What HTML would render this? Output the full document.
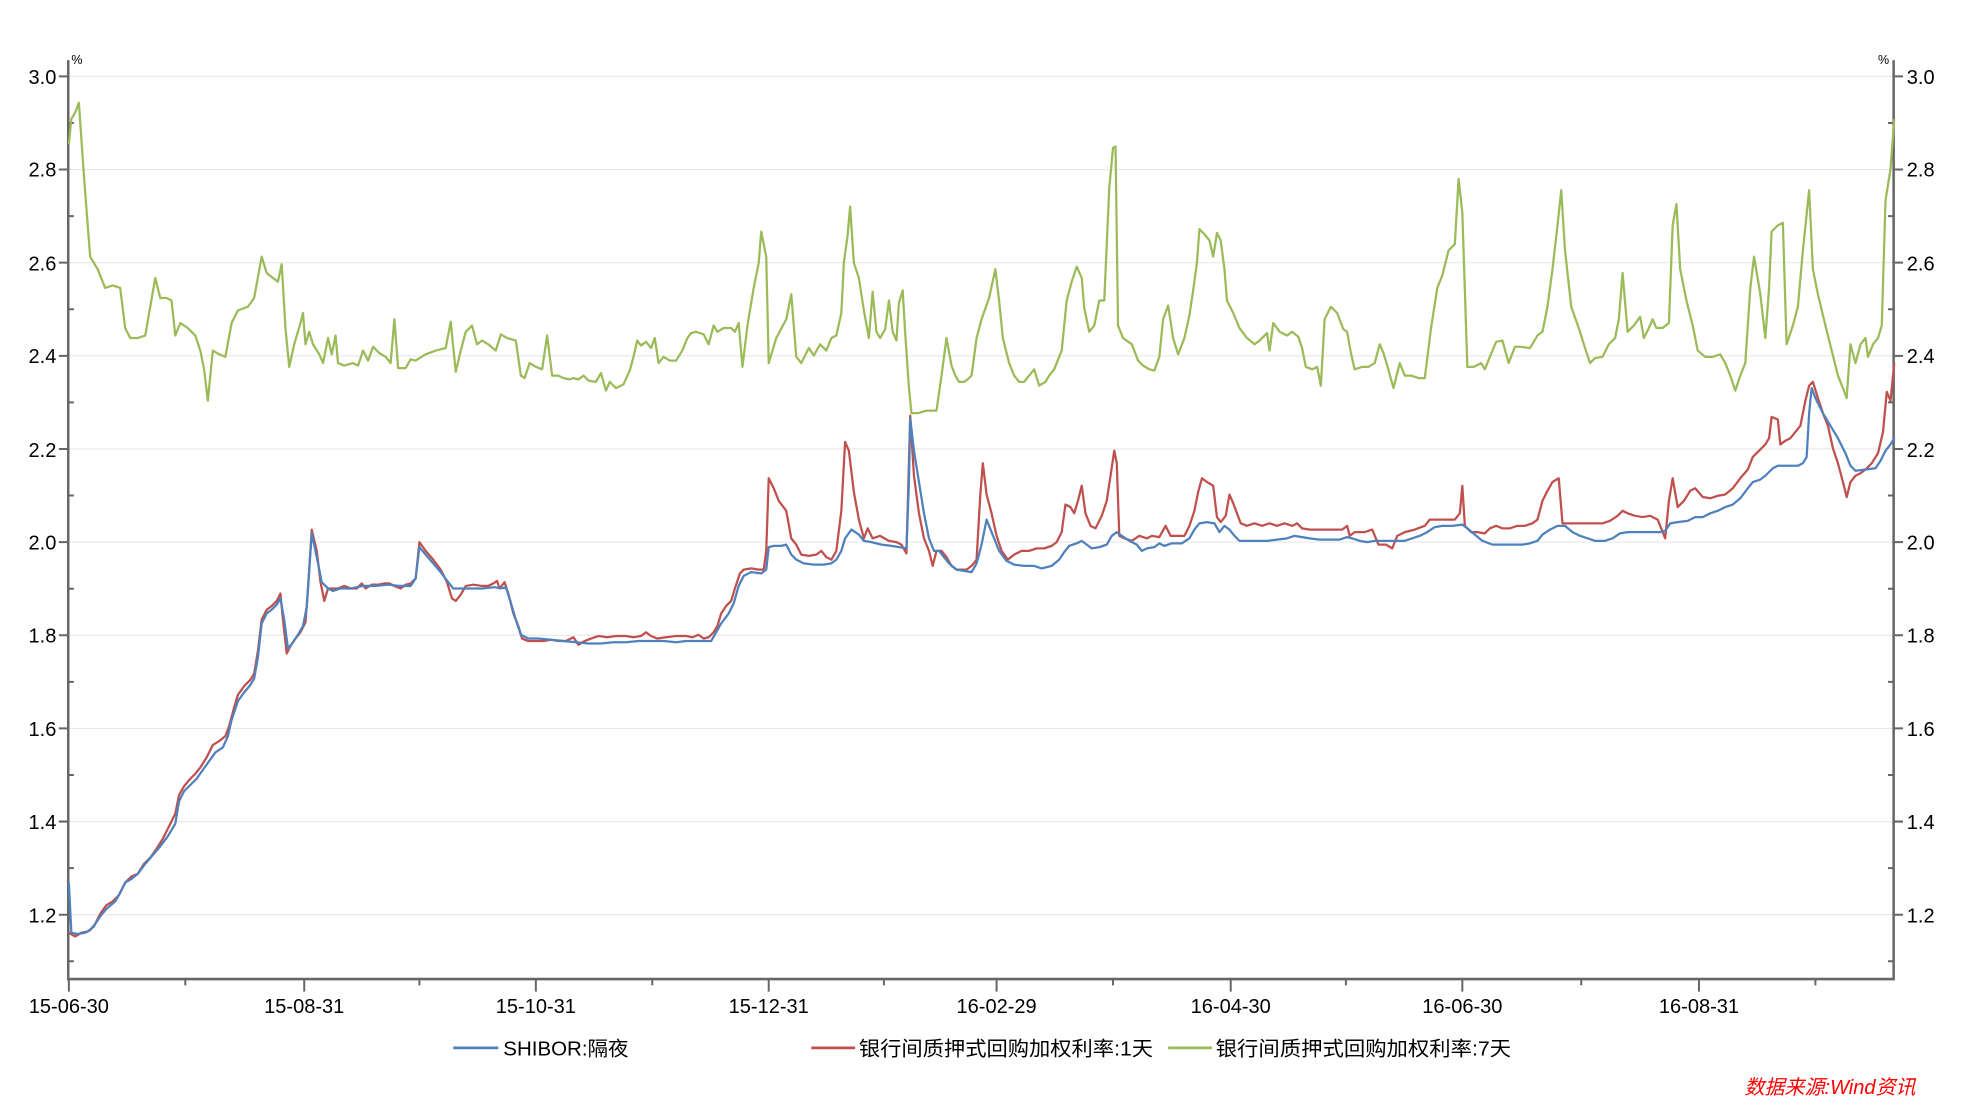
<!DOCTYPE html>
<html><head><meta charset="utf-8"><style>
html,body{margin:0;padding:0;background:#fff;}
svg{display:block;}
text{font-family:"Liberation Sans","Noto Sans CJK SC",sans-serif;}
</style></head><body>
<svg width="1963" height="1105" viewBox="0 0 1963 1105" xmlns="http://www.w3.org/2000/svg">
<g transform="scale(1.252)">
<g stroke="#e8e8e8" stroke-width="0.9">
<line x1="55" x2="1512" y1="61" y2="61"/><line x1="55" x2="1512" y1="135.4" y2="135.4"/><line x1="55" x2="1512" y1="209.8" y2="209.8"/><line x1="55" x2="1512" y1="284.2" y2="284.2"/><line x1="55" x2="1512" y1="358.6" y2="358.6"/><line x1="55" x2="1512" y1="433" y2="433"/><line x1="55" x2="1512" y1="507.4" y2="507.4"/><line x1="55" x2="1512" y1="581.8" y2="581.8"/><line x1="55" x2="1512" y1="656.2" y2="656.2"/><line x1="55" x2="1512" y1="730.6" y2="730.6"/>
</g>
<g stroke="#666" stroke-width="2">
<line x1="54.5" y1="48" x2="54.5" y2="783"/>
<line x1="1512.5" y1="48" x2="1512.5" y2="783"/>
<line x1="54" y1="782" x2="1513" y2="782"/>
</g>
<g stroke="#666" stroke-width="1.6">
<path d="M47 61h8M47 135.4h8M47 209.8h8M47 284.2h8M47 358.6h8M47 433h8M47 507.4h8M47 581.8h8M47 656.2h8M47 730.6h8"/>
<path d="M55 98.2h4M55 172.6h4M55 247h4M55 321.4h4M55 395.8h4M55 470.2h4M55 544.6h4M55 619h4M55 693.4h4M55 767.8h4"/>
<path d="M1512 61h8M1512 135.4h8M1512 209.8h8M1512 284.2h8M1512 358.6h8M1512 433h8M1512 507.4h8M1512 581.8h8M1512 656.2h8M1512 730.6h8"/>
<path d="M1508 98.2h4M1508 172.6h4M1508 247h4M1508 321.4h4M1508 395.8h4M1508 470.2h4M1508 544.6h4M1508 619h4M1508 693.4h4M1508 767.8h4"/>
<path d="M55 782v10M243 782v10M428 782v10M614 782v10M796 782v10M983 782v10M1168 782v10M1357 782v10"/>
<path d="M148 782v5M335 782v5M521 782v5M706 782v5M889 782v5M1075 782v5M1263 782v5M1450 782v5"/>
</g>
<g font-size="16" fill="#000" text-anchor="end">
<text x="45" y="67">3.0</text><text x="45" y="141">2.8</text><text x="45" y="216">2.6</text><text x="45" y="290">2.4</text><text x="45" y="365">2.2</text><text x="45" y="439">2.0</text><text x="45" y="513">1.8</text><text x="45" y="588">1.6</text><text x="45" y="662">1.4</text><text x="45" y="737">1.2</text>
</g>
<g font-size="16" fill="#000">
<text x="1523" y="67">3.0</text><text x="1523" y="141">2.8</text><text x="1523" y="216">2.6</text><text x="1523" y="290">2.4</text><text x="1523" y="365">2.2</text><text x="1523" y="439">2.0</text><text x="1523" y="513">1.8</text><text x="1523" y="588">1.6</text><text x="1523" y="662">1.4</text><text x="1523" y="737">1.2</text>
</g>
<text x="57" y="51" font-size="10">%</text><text x="1500" y="51" font-size="10">%</text>
<g font-size="16" fill="#000" text-anchor="middle">
<text x="55" y="809">15-06-30</text><text x="243" y="809">15-08-31</text><text x="428" y="809">15-10-31</text><text x="614" y="809">15-12-31</text><text x="796" y="809">16-02-29</text><text x="983" y="809">16-04-30</text><text x="1168" y="809">16-06-30</text><text x="1357" y="809">16-08-31</text>
</g>
<g fill="none" stroke-width="1.8" stroke-linejoin="round">
<polyline stroke="#9bbb59" points="55,115 57,95 60,90 63,82 67,140 72,205 78,215 84,230 90,228 96,230 100,262 104,270 110,270 116,268 120,245 124,222 128,238 133,238 137,240 140,268 144,258 150,262 156,268 160,280 163,295 166,320 170,280 175,283 180,285 185,258 190,248 198,245 203,238 209,205 213,218 218,222 222,225 225,211 228,262 231,293 235,275 240,258 242,250 244,275 247,265 250,275 255,283 258,290 262,270 265,283 268,268 270,290 275,292 282,290 286,292 290,280 294,288 298,277 303,282 308,285 312,290 315,255 318,294 324,294 328,287 332,288 340,283 348,280 356,278 360,257 364,297 368,280 372,265 377,260 381,275 385,272 390,275 396,280 400,267 405,270 412,272 416,300 419,302 423,290 428,293 433,295 437,268 441,300 446,300 450,302 455,303 458,302 462,303 466,300 470,304 476,305 480,298 484,312 487,305 492,310 498,307 503,296 506,285 509,272 512,276 516,273 520,278 523,270 526,290 530,285 535,288 540,288 545,280 549,270 552,266 556,265 562,267 566,275 570,260 573,265 578,262 584,262 587,265 590,258 593,293 597,260 602,230 606,210 608,185 612,205 614,290 620,270 628,255 632,235 636,285 640,290 646,278 650,284 655,275 660,280 664,270 668,268 672,250 674,210 677,188 679,165 682,210 686,222 690,248 694,270 697,233 700,265 703,270 707,263 710,240 713,265 716,272 718,242 721,232 723,266 726,310 728,330 733,330 740,328 748,328 752,300 756,270 760,292 763,300 766,305 770,305 773,303 776,300 780,270 784,255 790,238 795,215 798,240 801,270 806,290 810,300 814,305 818,305 822,300 826,295 830,308 835,305 838,300 842,295 848,280 852,240 856,225 860,213 864,222 866,246 870,265 874,260 878,240 882,240 886,150 889,118 891,117 893,260 897,270 904,275 909,288 913,292 918,295 922,296 926,285 929,255 933,244 937,270 941,283 946,270 950,252 953,232 956,210 958,183 962,187 966,192 969,205 972,186 975,192 978,215 980,240 985,250 990,262 996,270 1002,275 1006,272 1012,266 1014,280 1017,258 1022,265 1028,268 1032,265 1037,269 1040,278 1043,293 1048,295 1052,293 1055,308 1058,255 1063,245 1068,250 1073,263 1076,265 1079,282 1082,295 1088,293 1093,293 1098,290 1102,275 1105,282 1108,292 1113,310 1118,290 1122,300 1127,300 1133,302 1138,302 1143,262 1148,230 1152,220 1157,200 1162,195 1165,143 1168,170 1172,293 1177,293 1183,290 1186,295 1190,285 1195,273 1200,272 1205,290 1210,277 1215,277 1222,278 1228,268 1232,265 1236,245 1240,215 1244,180 1247,152 1250,200 1255,245 1262,265 1266,278 1270,290 1274,286 1280,285 1285,275 1290,270 1293,255 1296,218 1300,265 1305,260 1310,253 1313,270 1317,262 1320,255 1323,262 1328,262 1333,258 1336,180 1339,163 1342,215 1347,240 1352,260 1356,280 1362,285 1368,285 1374,283 1378,290 1382,300 1386,312 1390,300 1394,290 1398,230 1401,205 1406,235 1410,270 1413,230 1415,185 1420,180 1424,178 1427,275 1432,260 1436,245 1440,200 1445,152 1448,215 1452,235 1458,260 1463,280 1468,300 1472,310 1475,318 1478,275 1482,290 1486,275 1490,270 1492,285 1496,275 1500,270 1503,260 1506,160 1510,135 1513,95"/>
<polyline stroke="#c0504d" points="55,745 60,748 65,745 70,744 75,740 80,730 85,723 90,720 95,715 100,705 105,700 110,698 115,690 120,685 125,678 130,670 135,660 140,650 143,635 147,628 152,622 156,618 160,613 165,605 170,595 175,592 180,588 183,580 187,565 190,555 195,548 200,543 203,538 206,520 209,495 213,487 217,484 221,480 224,474 226,495 229,522 232,516 236,510 240,505 244,497 246,470 249,423 253,440 256,465 259,480 262,470 266,470 270,470 275,468 280,470 285,470 289,466 292,470 297,467 302,467 307,466 311,466 315,468 320,470 324,467 328,466 332,462 335,433 340,440 346,447 352,455 357,465 361,478 364,480 368,475 372,468 378,467 385,468 390,468 394,466 397,464 399,470 403,465 406,474 410,490 414,500 417,510 422,512 428,512 434,512 440,511 446,512 452,512 458,509 462,515 467,512 472,510 478,508 485,509 492,508 500,508 506,509 512,508 516,505 520,508 525,510 532,509 540,508 548,508 553,509 558,507 562,510 566,509 570,505 573,500 576,490 580,484 584,480 587,470 591,458 594,455 600,454 606,455 610,455 612,440 614,382 618,390 622,400 628,408 632,430 636,435 640,443 646,444 652,443 656,440 660,445 664,447 668,440 672,408 675,353 678,360 682,393 686,415 690,430 693,422 697,430 703,428 710,432 716,433 720,435 724,442 727,332 730,380 734,410 738,430 742,440 745,452 748,440 752,440 756,445 760,452 764,455 768,455 772,455 776,452 780,447 783,395 785,370 788,395 792,410 796,428 800,440 805,447 810,443 816,440 822,440 828,438 834,438 840,436 844,433 848,425 851,403 855,405 858,410 861,400 864,388 867,410 871,420 875,422 880,412 884,400 887,380 890,360 892,370 894,428 898,430 904,432 910,428 916,430 920,428 926,429 931,420 935,428 940,428 946,428 950,420 954,408 957,393 960,382 964,385 969,388 972,413 975,417 979,412 982,395 985,402 988,410 991,418 996,420 1002,418 1008,420 1014,418 1020,420 1026,418 1032,420 1036,418 1040,422 1046,423 1052,423 1060,423 1066,423 1072,423 1076,420 1078,428 1082,425 1090,425 1096,423 1101,435 1107,435 1112,438 1116,428 1122,425 1130,423 1138,420 1142,415 1148,415 1154,415 1162,415 1166,410 1168,388 1170,420 1175,425 1180,425 1186,426 1190,422 1195,420 1200,422 1206,422 1212,420 1218,420 1224,418 1228,415 1232,400 1236,392 1240,385 1245,382 1248,418 1254,418 1262,418 1268,418 1274,418 1280,418 1286,416 1292,412 1296,408 1300,410 1306,412 1312,413 1318,412 1324,415 1328,425 1330,430 1333,400 1336,382 1340,405 1345,400 1350,392 1354,390 1360,397 1366,398 1372,396 1378,395 1384,390 1390,382 1396,375 1400,365 1405,360 1410,355 1413,350 1415,333 1420,335 1422,355 1426,352 1430,350 1434,345 1438,340 1442,320 1445,308 1448,305 1452,318 1456,330 1460,340 1464,358 1468,370 1472,385 1475,397 1478,385 1482,380 1486,378 1490,375 1495,370 1500,362 1504,345 1507,313 1510,320 1513,290"/>
<polyline stroke="#4f81bd" points="55,705 57,745 62,746 68,745 72,743 76,738 80,732 85,726 92,720 96,713 100,705 105,702 110,698 116,690 122,683 128,676 134,668 140,658 143,640 147,632 152,627 157,622 162,615 167,608 172,601 178,597 182,588 185,575 190,560 195,553 200,547 203,542 206,525 209,498 213,490 217,487 221,483 224,478 227,495 230,518 234,513 238,507 242,500 245,485 249,426 253,445 257,465 262,470 266,472 272,470 280,470 290,468 300,468 310,467 320,468 328,468 332,462 335,437 340,443 346,450 352,457 358,465 362,470 368,470 376,470 386,470 395,469 400,470 404,469 407,478 412,495 416,507 422,510 430,510 440,511 450,512 460,513 470,514 480,514 490,513 500,513 510,512 520,512 530,512 540,513 548,512 560,512 568,512 572,505 576,498 582,490 586,482 590,468 594,460 600,457 608,458 612,455 614,437 618,436 624,436 628,435 632,443 636,447 642,450 650,451 658,451 664,450 668,447 672,440 675,430 680,423 686,427 690,432 696,433 704,435 712,436 718,437 724,438 726,385 727,334 730,360 734,385 738,410 742,430 746,440 750,440 754,445 758,450 764,455 770,456 776,457 780,450 784,435 788,415 792,425 798,440 804,448 810,451 818,452 826,452 832,454 840,452 846,447 850,441 854,436 860,434 864,432 868,435 872,438 878,437 884,435 888,428 892,425 896,428 902,432 908,435 912,440 916,438 922,437 926,434 930,436 936,434 944,434 950,430 954,423 958,418 964,417 970,418 974,425 978,420 982,423 986,428 990,432 996,432 1004,432 1012,432 1020,431 1028,430 1034,428 1040,429 1046,430 1054,431 1062,431 1070,431 1076,429 1080,430 1086,432 1092,433 1098,432 1106,432 1114,432 1122,432 1128,430 1134,428 1140,425 1146,421 1152,420 1160,420 1168,419 1172,422 1178,427 1184,432 1192,435 1200,435 1208,435 1216,435 1222,434 1228,432 1232,427 1238,423 1244,420 1250,420 1256,425 1262,428 1268,430 1274,432 1282,432 1288,430 1294,426 1300,425 1310,425 1320,425 1326,425 1330,424 1334,418 1340,417 1348,416 1354,413 1360,413 1366,410 1372,408 1378,405 1384,403 1390,398 1396,390 1400,385 1406,383 1410,380 1416,374 1420,372 1426,372 1432,372 1436,372 1440,370 1443,365 1445,330 1447,310 1450,318 1456,330 1462,340 1468,350 1474,362 1478,372 1482,376 1490,375 1498,374 1502,368 1506,360 1510,355 1513,350"/>
</g>
<g stroke-width="2.2">
<line x1="362" y1="837" x2="398" y2="837" stroke="#4f81bd"/>
<line x1="648" y1="837" x2="683" y2="837" stroke="#c0504d"/>
<line x1="933" y1="837" x2="968" y2="837" stroke="#9bbb59"/>
</g>
<g font-size="16" fill="#000">
<text x="402" y="843" textLength="100" lengthAdjust="spacingAndGlyphs">SHIBOR:隔夜</text>
<text x="686" y="843" textLength="235" lengthAdjust="spacingAndGlyphs">银行间质押式回购加权利率:1天</text>
<text x="971" y="843" textLength="236" lengthAdjust="spacingAndGlyphs">银行间质押式回购加权利率:7天</text>
</g>
<text x="1530" y="874" font-size="16" fill="#ff0000" font-style="italic" text-anchor="end">数据来源:Wind资讯</text>
</g>
</svg>
</body></html>
